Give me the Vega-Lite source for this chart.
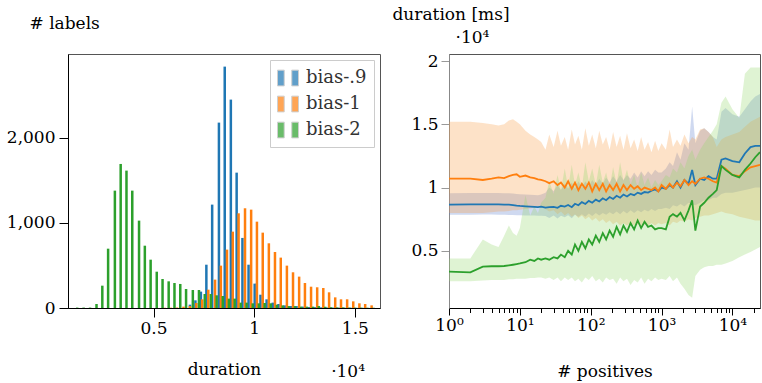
{
  "$schema": "https://vega.github.io/schema/vega-lite/v6.json",
  "padding": {"left": 5, "top": 5, "right": 0, "bottom": 0},
  "background": "white",
  "bounds": "flush",
  "spacing": 69,
  "config": {
    "font": "DejaVu Serif",
    "view": {"stroke": "#555", "strokeWidth": 1},
    "axis": {"labelFont": "DejaVu Serif", "labelFontSize": 17, "titleFont": "DejaVu Serif", "titleFontSize": 17, "titleFontWeight": "normal", "labelColor": "#000", "titleColor": "#000", "grid": false, "domainColor": "#000", "tickColor": "#000", "labelFlush": false},
    "title": {"font": "DejaVu Serif", "fontSize": 17, "fontWeight": "normal", "color": "#000"}
  },
  "resolve": {"scale": {"color": "independent"}, "legend": {"color": "independent"}},
  "datasets": {
    "hist": [
      {"s":"bias-.9","d":0.6808,"n":39},{"s":"bias-.9","d":0.708,"n":90},{"s":"bias-.9","d":0.7352,"n":192},{"s":"bias-.9","d":0.7624,"n":508},{"s":"bias-.9","d":0.7912,"n":1213},{"s":"bias-.9","d":0.8248,"n":2175},{"s":"bias-.9","d":0.8536,"n":2832},{"s":"bias-.9","d":0.884,"n":2445},{"s":"bias-.9","d":0.9128,"n":1588},{"s":"bias-.9","d":0.9416,"n":822},{"s":"bias-.9","d":0.972,"n":508},{"s":"bias-.9","d":1.0024,"n":286},{"s":"bias-.9","d":1.0312,"n":156},{"s":"bias-.9","d":1.0616,"n":102},{"s":"bias-.9","d":1.092,"n":63},{"s":"bias-.9","d":1.1208,"n":47},{"s":"bias-.9","d":1.1512,"n":31},{"s":"bias-.9","d":1.1816,"n":23},{"s":"bias-.9","d":1.2104,"n":23},{"s":"bias-.9","d":1.2408,"n":16},{"s":"bias-.9","d":1.2712,"n":12},{"s":"bias-.9","d":1.3016,"n":10},{"s":"bias-.9","d":1.332,"n":8},{"s":"bias-.9","d":1.3624,"n":6},{"s":"bias-.9","d":1.3928,"n":5},{"s":"bias-.9","d":1.4232,"n":4},{"s":"bias-.9","d":1.4536,"n":3},{"s":"bias-.9","d":1.484,"n":3},{"s":"bias-.9","d":1.5144,"n":2},{"s":"bias-.9","d":1.5448,"n":2},{"s":"bias-.9","d":1.5752,"n":1},
      {"s":"bias-1","d":0.556,"n":3},{"s":"bias-1","d":0.5864,"n":4},{"s":"bias-1","d":0.6168,"n":6},{"s":"bias-1","d":0.6488,"n":16},{"s":"bias-1","d":0.6808,"n":23},{"s":"bias-1","d":0.7128,"n":59},{"s":"bias-1","d":0.7416,"n":102},{"s":"bias-1","d":0.772,"n":215},{"s":"bias-1","d":0.8056,"n":333},{"s":"bias-1","d":0.8344,"n":497},{"s":"bias-1","d":0.8648,"n":685},{"s":"bias-1","d":0.8936,"n":896},{"s":"bias-1","d":0.9224,"n":1111},{"s":"bias-1","d":0.9544,"n":1170},{"s":"bias-1","d":0.9848,"n":1154},{"s":"bias-1","d":1.0136,"n":1013},{"s":"bias-1","d":1.0424,"n":884},{"s":"bias-1","d":1.0728,"n":759},{"s":"bias-1","d":1.1032,"n":657},{"s":"bias-1","d":1.132,"n":591},{"s":"bias-1","d":1.1624,"n":497},{"s":"bias-1","d":1.1928,"n":419},{"s":"bias-1","d":1.2232,"n":368},{"s":"bias-1","d":1.252,"n":293},{"s":"bias-1","d":1.2824,"n":250},{"s":"bias-1","d":1.3128,"n":243},{"s":"bias-1","d":1.3432,"n":235},{"s":"bias-1","d":1.372,"n":184},{"s":"bias-1","d":1.4024,"n":125},{"s":"bias-1","d":1.4312,"n":102},{"s":"bias-1","d":1.4616,"n":102},{"s":"bias-1","d":1.492,"n":78},{"s":"bias-1","d":1.5224,"n":55},{"s":"bias-1","d":1.5512,"n":47},{"s":"bias-1","d":1.5832,"n":31},
      {"s":"bias-2","d":0.1208,"n":5},{"s":"bias-2","d":0.1528,"n":5},{"s":"bias-2","d":0.1848,"n":5},{"s":"bias-2","d":0.2168,"n":47},{"s":"bias-2","d":0.2456,"n":262},{"s":"bias-2","d":0.2744,"n":696},{"s":"bias-2","d":0.308,"n":1377},{"s":"bias-2","d":0.3368,"n":1690},{"s":"bias-2","d":0.3656,"n":1612},{"s":"bias-2","d":0.3944,"n":1377},{"s":"bias-2","d":0.428,"n":1025},{"s":"bias-2","d":0.4568,"n":731},{"s":"bias-2","d":0.4856,"n":567},{"s":"bias-2","d":0.516,"n":426},{"s":"bias-2","d":0.5448,"n":340},{"s":"bias-2","d":0.5752,"n":313},{"s":"bias-2","d":0.604,"n":293},{"s":"bias-2","d":0.6328,"n":282},{"s":"bias-2","d":0.6616,"n":223},{"s":"bias-2","d":0.6952,"n":211},{"s":"bias-2","d":0.7256,"n":211},{"s":"bias-2","d":0.7544,"n":164},{"s":"bias-2","d":0.7848,"n":164},{"s":"bias-2","d":0.8136,"n":149},{"s":"bias-2","d":0.844,"n":141},{"s":"bias-2","d":0.8744,"n":110},{"s":"bias-2","d":0.9032,"n":110},{"s":"bias-2","d":0.9336,"n":63},{"s":"bias-2","d":0.9624,"n":63},{"s":"bias-2","d":0.9928,"n":55},{"s":"bias-2","d":1.0232,"n":55},{"s":"bias-2","d":1.052,"n":59},{"s":"bias-2","d":1.0824,"n":55},{"s":"bias-2","d":1.1128,"n":39},{"s":"bias-2","d":1.1416,"n":31},{"s":"bias-2","d":1.172,"n":23},{"s":"bias-2","d":1.2024,"n":23},{"s":"bias-2","d":1.2328,"n":16},{"s":"bias-2","d":1.2616,"n":16},{"s":"bias-2","d":1.292,"n":16},{"s":"bias-2","d":1.3208,"n":23},{"s":"bias-2","d":1.3528,"n":16},{"s":"bias-2","d":1.3816,"n":10},{"s":"bias-2","d":1.412,"n":8},{"s":"bias-2","d":1.4424,"n":8},{"s":"bias-2","d":1.4728,"n":6},{"s":"bias-2","d":1.5016,"n":5},{"s":"bias-2","d":1.532,"n":5},{"s":"bias-2","d":1.5624,"n":4},{"s":"bias-2","d":1.5928,"n":3}
    ],
    "lines": [
      {"s":"bias-.9","p":1,"m":0.865,"lo":0.785,"hi":0.955},{"s":"bias-.9","p":2,"m":0.867,"lo":0.786,"hi":0.957},{"s":"bias-.9","p":3,"m":0.868,"lo":0.787,"hi":0.958},{"s":"bias-.9","p":4,"m":0.868,"lo":0.787,"hi":0.958},{"s":"bias-.9","p":5,"m":0.867,"lo":0.786,"hi":0.957},{"s":"bias-.9","p":6,"m":0.866,"lo":0.785,"hi":0.956},{"s":"bias-.9","p":7,"m":0.865,"lo":0.784,"hi":0.955},{"s":"bias-.9","p":8,"m":0.862,"lo":0.783,"hi":0.953},{"s":"bias-.9","p":9,"m":0.858,"lo":0.782,"hi":0.95},{"s":"bias-.9","p":10,"m":0.855,"lo":0.781,"hi":0.948},{"s":"bias-.9","p":12,"m":0.852,"lo":0.78,"hi":0.946},{"s":"bias-.9","p":14,"m":0.85,"lo":0.78,"hi":0.944},{"s":"bias-.9","p":16,"m":0.848,"lo":0.779,"hi":0.942},{"s":"bias-.9","p":18,"m":0.846,"lo":0.778,"hi":0.94},{"s":"bias-.9","p":20,"m":0.85,"lo":0.778,"hi":0.945},{"s":"bias-.9","p":23,"m":0.842,"lo":0.775,"hi":0.96},{"s":"bias-.9","p":26,"m":0.845,"lo":0.76,"hi":1.0},{"s":"bias-.9","p":30,"m":0.848,"lo":0.78,"hi":0.97},{"s":"bias-.9","p":34,"m":0.84,"lo":0.755,"hi":1.02},{"s":"bias-.9","p":38,"m":0.856,"lo":0.778,"hi":0.98},{"s":"bias-.9","p":43,"m":0.85,"lo":0.765,"hi":1.03},{"s":"bias-.9","p":48,"m":0.862,"lo":0.782,"hi":0.99},{"s":"bias-.9","p":54,"m":0.845,"lo":0.758,"hi":1.04},{"s":"bias-.9","p":60,"m":0.872,"lo":0.785,"hi":0.99},{"s":"bias-.9","p":67,"m":0.86,"lo":0.77,"hi":1.05},{"s":"bias-.9","p":75,"m":0.885,"lo":0.79,"hi":1.0},{"s":"bias-.9","p":84,"m":0.87,"lo":0.77,"hi":1.05},{"s":"bias-.9","p":94,"m":0.895,"lo":0.795,"hi":1.01},{"s":"bias-.9","p":105,"m":0.88,"lo":0.775,"hi":1.06},{"s":"bias-.9","p":118,"m":0.905,"lo":0.8,"hi":1.02},{"s":"bias-.9","p":132,"m":0.89,"lo":0.78,"hi":1.07},{"s":"bias-.9","p":148,"m":0.915,"lo":0.8,"hi":1.03},{"s":"bias-.9","p":165,"m":0.9,"lo":0.785,"hi":1.08},{"s":"bias-.9","p":185,"m":0.925,"lo":0.805,"hi":1.04},{"s":"bias-.9","p":207,"m":0.91,"lo":0.79,"hi":1.09},{"s":"bias-.9","p":232,"m":0.935,"lo":0.81,"hi":1.05},{"s":"bias-.9","p":260,"m":0.92,"lo":0.79,"hi":1.1},{"s":"bias-.9","p":290,"m":0.945,"lo":0.815,"hi":1.06},{"s":"bias-.9","p":325,"m":0.93,"lo":0.795,"hi":1.1},{"s":"bias-.9","p":365,"m":0.95,"lo":0.82,"hi":1.07},{"s":"bias-.9","p":410,"m":0.94,"lo":0.8,"hi":1.12},{"s":"bias-.9","p":460,"m":0.96,"lo":0.82,"hi":1.08},{"s":"bias-.9","p":515,"m":0.95,"lo":0.805,"hi":1.13},{"s":"bias-.9","p":575,"m":0.965,"lo":0.825,"hi":1.09},{"s":"bias-.9","p":645,"m":0.96,"lo":0.81,"hi":1.13},{"s":"bias-.9","p":720,"m":0.975,"lo":0.83,"hi":1.1},{"s":"bias-.9","p":810,"m":0.985,"lo":0.815,"hi":1.14},{"s":"bias-.9","p":900,"m":0.97,"lo":0.83,"hi":1.12},{"s":"bias-.9","p":1000,"m":1.0,"lo":0.83,"hi":1.12},{"s":"bias-.9","p":1150,"m":0.99,"lo":0.84,"hi":1.15},{"s":"bias-.9","p":1300,"m":1.02,"lo":0.83,"hi":1.2},{"s":"bias-.9","p":1450,"m":1.0,"lo":0.86,"hi":1.17},{"s":"bias-.9","p":1650,"m":1.05,"lo":0.85,"hi":1.28},{"s":"bias-.9","p":1850,"m":1.0,"lo":0.87,"hi":1.22},{"s":"bias-.9","p":2100,"m":1.06,"lo":0.85,"hi":1.35},{"s":"bias-.9","p":2400,"m":1.03,"lo":0.88,"hi":1.3},{"s":"bias-.9","p":2700,"m":1.14,"lo":0.87,"hi":1.64},{"s":"bias-.9","p":3000,"m":1.02,"lo":0.86,"hi":1.35},{"s":"bias-.9","p":3500,"m":1.07,"lo":0.88,"hi":1.45},{"s":"bias-.9","p":4000,"m":1.06,"lo":0.9,"hi":1.47},{"s":"bias-.9","p":4600,"m":1.09,"lo":0.9,"hi":1.44},{"s":"bias-.9","p":5300,"m":1.07,"lo":0.92,"hi":1.4},{"s":"bias-.9","p":6000,"m":1.07,"lo":0.92,"hi":1.38},{"s":"bias-.9","p":7000,"m":1.22,"lo":0.95,"hi":1.6},{"s":"bias-.9","p":8000,"m":1.23,"lo":0.96,"hi":1.63},{"s":"bias-.9","p":10000,"m":1.21,"lo":0.96,"hi":1.58},{"s":"bias-.9","p":12500,"m":1.2,"lo":0.97,"hi":1.56},{"s":"bias-.9","p":15000,"m":1.27,"lo":0.98,"hi":1.62},{"s":"bias-.9","p":18000,"m":1.32,"lo":0.99,"hi":1.68},{"s":"bias-.9","p":21000,"m":1.33,"lo":1.0,"hi":1.72},{"s":"bias-.9","p":24500,"m":1.33,"lo":1.0,"hi":1.74},
      {"s":"bias-1","p":1,"m":1.07,"lo":0.8,"hi":1.52},{"s":"bias-1","p":2,"m":1.07,"lo":0.8,"hi":1.52},{"s":"bias-1","p":3,"m":1.06,"lo":0.8,"hi":1.51},{"s":"bias-1","p":4,"m":1.07,"lo":0.805,"hi":1.5},{"s":"bias-1","p":5,"m":1.08,"lo":0.81,"hi":1.49},{"s":"bias-1","p":6,"m":1.075,"lo":0.81,"hi":1.5},{"s":"bias-1","p":7,"m":1.09,"lo":0.815,"hi":1.53},{"s":"bias-1","p":8,"m":1.1,"lo":0.82,"hi":1.54},{"s":"bias-1","p":9,"m":1.105,"lo":0.82,"hi":1.52},{"s":"bias-1","p":10,"m":1.085,"lo":0.825,"hi":1.5},{"s":"bias-1","p":12,"m":1.095,"lo":0.83,"hi":1.45},{"s":"bias-1","p":14,"m":1.08,"lo":0.835,"hi":1.42},{"s":"bias-1","p":16,"m":1.075,"lo":0.84,"hi":1.4},{"s":"bias-1","p":18,"m":1.065,"lo":0.84,"hi":1.38},{"s":"bias-1","p":20,"m":1.06,"lo":0.845,"hi":1.36},{"s":"bias-1","p":23,"m":1.05,"lo":0.83,"hi":1.3},{"s":"bias-1","p":26,"m":1.035,"lo":0.81,"hi":1.42},{"s":"bias-1","p":30,"m":1.05,"lo":0.82,"hi":1.32},{"s":"bias-1","p":34,"m":1.02,"lo":0.79,"hi":1.45},{"s":"bias-1","p":38,"m":1.04,"lo":0.81,"hi":1.33},{"s":"bias-1","p":43,"m":1.0,"lo":0.78,"hi":1.4},{"s":"bias-1","p":48,"m":1.05,"lo":0.8,"hi":1.3},{"s":"bias-1","p":54,"m":0.99,"lo":0.77,"hi":1.46},{"s":"bias-1","p":60,"m":1.04,"lo":0.79,"hi":1.34},{"s":"bias-1","p":67,"m":0.98,"lo":0.76,"hi":1.41},{"s":"bias-1","p":75,"m":1.03,"lo":0.78,"hi":1.3},{"s":"bias-1","p":84,"m":0.99,"lo":0.75,"hi":1.47},{"s":"bias-1","p":94,"m":1.04,"lo":0.77,"hi":1.33},{"s":"bias-1","p":105,"m":0.97,"lo":0.74,"hi":1.42},{"s":"bias-1","p":118,"m":1.03,"lo":0.76,"hi":1.31},{"s":"bias-1","p":132,"m":0.98,"lo":0.73,"hi":1.45},{"s":"bias-1","p":148,"m":1.03,"lo":0.75,"hi":1.34},{"s":"bias-1","p":165,"m":0.97,"lo":0.72,"hi":1.4},{"s":"bias-1","p":185,"m":1.02,"lo":0.74,"hi":1.3},{"s":"bias-1","p":207,"m":0.98,"lo":0.71,"hi":1.44},{"s":"bias-1","p":232,"m":1.03,"lo":0.73,"hi":1.32},{"s":"bias-1","p":260,"m":0.97,"lo":0.7,"hi":1.41},{"s":"bias-1","p":290,"m":1.02,"lo":0.72,"hi":1.3},{"s":"bias-1","p":325,"m":0.98,"lo":0.7,"hi":1.43},{"s":"bias-1","p":365,"m":1.02,"lo":0.72,"hi":1.31},{"s":"bias-1","p":410,"m":0.99,"lo":0.7,"hi":1.38},{"s":"bias-1","p":460,"m":1.01,"lo":0.71,"hi":1.29},{"s":"bias-1","p":515,"m":0.98,"lo":0.69,"hi":1.4},{"s":"bias-1","p":575,"m":1.0,"lo":0.71,"hi":1.3},{"s":"bias-1","p":645,"m":0.99,"lo":0.7,"hi":1.36},{"s":"bias-1","p":720,"m":0.98,"lo":0.72,"hi":1.28},{"s":"bias-1","p":810,"m":1.0,"lo":0.7,"hi":1.37},{"s":"bias-1","p":900,"m":0.97,"lo":0.72,"hi":1.29},{"s":"bias-1","p":1000,"m":1.02,"lo":0.71,"hi":1.35},{"s":"bias-1","p":1150,"m":0.99,"lo":0.72,"hi":1.3},{"s":"bias-1","p":1300,"m":1.03,"lo":0.7,"hi":1.46},{"s":"bias-1","p":1450,"m":1.0,"lo":0.73,"hi":1.32},{"s":"bias-1","p":1650,"m":1.04,"lo":0.72,"hi":1.38},{"s":"bias-1","p":1850,"m":1.01,"lo":0.74,"hi":1.33},{"s":"bias-1","p":2100,"m":1.06,"lo":0.73,"hi":1.42},{"s":"bias-1","p":2400,"m":1.02,"lo":0.75,"hi":1.35},{"s":"bias-1","p":2700,"m":1.05,"lo":0.74,"hi":1.4},{"s":"bias-1","p":3000,"m":1.03,"lo":0.76,"hi":1.38},{"s":"bias-1","p":3500,"m":1.07,"lo":0.77,"hi":1.46},{"s":"bias-1","p":4000,"m":1.08,"lo":0.78,"hi":1.47},{"s":"bias-1","p":4600,"m":1.07,"lo":0.78,"hi":1.44},{"s":"bias-1","p":5300,"m":1.05,"lo":0.79,"hi":1.4},{"s":"bias-1","p":6000,"m":1.04,"lo":0.8,"hi":1.32},{"s":"bias-1","p":7000,"m":1.17,"lo":0.81,"hi":1.38},{"s":"bias-1","p":8000,"m":1.15,"lo":0.8,"hi":1.4},{"s":"bias-1","p":10000,"m":1.1,"lo":0.79,"hi":1.42},{"s":"bias-1","p":12500,"m":1.09,"lo":0.77,"hi":1.44},{"s":"bias-1","p":15000,"m":1.13,"lo":0.76,"hi":1.48},{"s":"bias-1","p":18000,"m":1.16,"lo":0.75,"hi":1.52},{"s":"bias-1","p":21000,"m":1.17,"lo":0.74,"hi":1.54},{"s":"bias-1","p":24500,"m":1.18,"lo":0.74,"hi":1.56},
      {"s":"bias-2","p":1,"m":0.336,"lo":0.26,"hi":0.44},{"s":"bias-2","p":2,"m":0.33,"lo":0.26,"hi":0.44},{"s":"bias-2","p":3,"m":0.375,"lo":0.265,"hi":0.59},{"s":"bias-2","p":4,"m":0.378,"lo":0.27,"hi":0.55},{"s":"bias-2","p":5,"m":0.378,"lo":0.27,"hi":0.53},{"s":"bias-2","p":6,"m":0.38,"lo":0.27,"hi":0.62},{"s":"bias-2","p":7,"m":0.385,"lo":0.275,"hi":0.7},{"s":"bias-2","p":8,"m":0.39,"lo":0.275,"hi":0.64},{"s":"bias-2","p":9,"m":0.395,"lo":0.28,"hi":0.62},{"s":"bias-2","p":10,"m":0.4,"lo":0.28,"hi":0.68},{"s":"bias-2","p":12,"m":0.41,"lo":0.28,"hi":0.94},{"s":"bias-2","p":14,"m":0.43,"lo":0.285,"hi":0.78},{"s":"bias-2","p":16,"m":0.42,"lo":0.285,"hi":0.85},{"s":"bias-2","p":18,"m":0.44,"lo":0.29,"hi":0.8},{"s":"bias-2","p":20,"m":0.43,"lo":0.29,"hi":0.88},{"s":"bias-2","p":23,"m":0.44,"lo":0.28,"hi":0.92},{"s":"bias-2","p":26,"m":0.43,"lo":0.29,"hi":1.05},{"s":"bias-2","p":30,"m":0.45,"lo":0.27,"hi":0.95},{"s":"bias-2","p":34,"m":0.44,"lo":0.29,"hi":1.1},{"s":"bias-2","p":38,"m":0.47,"lo":0.26,"hi":0.98},{"s":"bias-2","p":43,"m":0.45,"lo":0.29,"hi":1.15},{"s":"bias-2","p":48,"m":0.5,"lo":0.27,"hi":1.0},{"s":"bias-2","p":54,"m":0.47,"lo":0.29,"hi":1.18},{"s":"bias-2","p":60,"m":0.55,"lo":0.26,"hi":1.02},{"s":"bias-2","p":67,"m":0.5,"lo":0.28,"hi":1.12},{"s":"bias-2","p":75,"m":0.57,"lo":0.25,"hi":1.0},{"s":"bias-2","p":84,"m":0.52,"lo":0.29,"hi":1.2},{"s":"bias-2","p":94,"m":0.59,"lo":0.27,"hi":1.05},{"s":"bias-2","p":105,"m":0.55,"lo":0.3,"hi":1.15},{"s":"bias-2","p":118,"m":0.62,"lo":0.26,"hi":1.02},{"s":"bias-2","p":132,"m":0.57,"lo":0.28,"hi":1.18},{"s":"bias-2","p":148,"m":0.64,"lo":0.25,"hi":1.04},{"s":"bias-2","p":165,"m":0.59,"lo":0.29,"hi":1.12},{"s":"bias-2","p":185,"m":0.66,"lo":0.27,"hi":1.0},{"s":"bias-2","p":207,"m":0.61,"lo":0.28,"hi":1.16},{"s":"bias-2","p":232,"m":0.69,"lo":0.24,"hi":1.03},{"s":"bias-2","p":260,"m":0.63,"lo":0.29,"hi":1.2},{"s":"bias-2","p":290,"m":0.7,"lo":0.26,"hi":1.05},{"s":"bias-2","p":325,"m":0.65,"lo":0.28,"hi":1.14},{"s":"bias-2","p":365,"m":0.72,"lo":0.23,"hi":1.02},{"s":"bias-2","p":410,"m":0.67,"lo":0.27,"hi":1.1},{"s":"bias-2","p":460,"m":0.74,"lo":0.25,"hi":1.0},{"s":"bias-2","p":515,"m":0.68,"lo":0.29,"hi":1.12},{"s":"bias-2","p":575,"m":0.73,"lo":0.24,"hi":1.02},{"s":"bias-2","p":645,"m":0.69,"lo":0.28,"hi":1.08},{"s":"bias-2","p":720,"m":0.7,"lo":0.26,"hi":1.0},{"s":"bias-2","p":810,"m":0.67,"lo":0.29,"hi":1.06},{"s":"bias-2","p":900,"m":0.68,"lo":0.27,"hi":1.02},{"s":"bias-2","p":1000,"m":0.68,"lo":0.28,"hi":1.05},{"s":"bias-2","p":1150,"m":0.67,"lo":0.27,"hi":1.1},{"s":"bias-2","p":1300,"m":0.77,"lo":0.3,"hi":1.08},{"s":"bias-2","p":1450,"m":0.79,"lo":0.26,"hi":1.15},{"s":"bias-2","p":1650,"m":0.77,"lo":0.29,"hi":1.12},{"s":"bias-2","p":1850,"m":0.8,"lo":0.24,"hi":1.2},{"s":"bias-2","p":2100,"m":0.74,"lo":0.2,"hi":1.15},{"s":"bias-2","p":2400,"m":0.82,"lo":0.15,"hi":1.25},{"s":"bias-2","p":2700,"m":0.9,"lo":0.13,"hi":1.3},{"s":"bias-2","p":3000,"m":0.66,"lo":0.3,"hi":1.22},{"s":"bias-2","p":3500,"m":0.85,"lo":0.35,"hi":1.3},{"s":"bias-2","p":4000,"m":0.88,"lo":0.37,"hi":1.35},{"s":"bias-2","p":4600,"m":0.92,"lo":0.38,"hi":1.4},{"s":"bias-2","p":5300,"m":0.95,"lo":0.38,"hi":1.45},{"s":"bias-2","p":6000,"m":0.98,"lo":0.39,"hi":1.5},{"s":"bias-2","p":7000,"m":1.17,"lo":0.39,"hi":1.67},{"s":"bias-2","p":8000,"m":1.14,"lo":0.4,"hi":1.72},{"s":"bias-2","p":10000,"m":1.1,"lo":0.42,"hi":1.62},{"s":"bias-2","p":12500,"m":1.08,"lo":0.45,"hi":1.55},{"s":"bias-2","p":15000,"m":1.14,"lo":0.47,"hi":1.9},{"s":"bias-2","p":18000,"m":1.19,"lo":0.49,"hi":1.95},{"s":"bias-2","p":21000,"m":1.24,"lo":0.51,"hi":1.95},{"s":"bias-2","p":24500,"m":1.28,"lo":0.53,"hi":1.95}
    ]
  },
  "hconcat": [
    {
      "width": 312,
      "height": 254,
      "title": {"text": "·10⁴", "orient": "bottom", "anchor": "end", "frame": "group", "dx": -15, "dy": -13, "offset": 0},
      "data": {"name": "hist"},
      "mark": {"type": "bar", "width": 2.5, "clip": true},
      "encoding": {
        "x": {"field": "d", "type": "quantitative", "scale": {"domain": [0.1, 1.6], "nice": false, "zero": false},
          "axis": {"values": [0.5, 1, 1.5], "format": "~g", "tickSize": 9, "labelPadding": 3, "title": "duration", "titleY": 61, "titleBaseline": "middle"}},
        "y": {"field": "n", "type": "quantitative", "stack": null, "scale": {"domain": [0, 2980], "nice": false},
          "axis": {"values": [0, 1000, 2000], "format": ",d", "tickSize": 9, "labelPadding": 4, "title": "# labels", "titleAngle": 0, "titleAlign": "left", "titleX": -39, "titleY": -31, "titleBaseline": "middle"}},
        "color": {"field": "s", "type": "nominal", "scale": {"domain": ["bias-.9", "bias-1", "bias-2"], "range": ["#1f77b4", "#ff7f0e", "#2ca02c"]},
          "legend": {"title": null, "orient": "top-right", "offset": 6, "padding": 7, "fillColor": "white", "strokeColor": "#ccc", "symbolType": "M-1,-0.75H-0.36V0.75H-1Z M0.36,-0.75H1V0.75H0.36Z", "symbolSize": 441, "symbolOpacity": 0.7, "symbolStrokeColor": "#bbb", "symbolStrokeWidth": 1, "labelFontSize": 18, "labelFont": "DejaVu Serif", "labelColor": "#333", "rowPadding": 5, "labelOffset": 7}}
      }
    },
    {
      "width": 311,
      "height": 254,
      "title": {"text": "duration [ms]", "anchor": "start", "align": "center", "dx": 2, "frame": "group", "offset": 4},
      "data": {"name": "lines"},
      "layer": [
        {
          "mark": {"type": "area", "fillOpacity": 0.3, "clip": true},
          "encoding": {
            "x": {"field": "p", "type": "quantitative", "scale": {"type": "log", "domain": [1, 24500], "nice": false},
              "axis": {"values": [1,2,3,4,5,6,7,8,9,10,20,30,40,50,60,70,80,90,100,200,300,400,500,600,700,800,900,1000,2000,3000,4000,5000,6000,7000,8000,9000,10000,20000],
                "labelExpr": "abs(log(datum.value)/LN10 - round(log(datum.value)/LN10)) < 0.000001 ? '10' + ['⁰','¹','²','³','⁴'][round(log(datum.value)/LN10)] : ''",
                "labelOverlap": false, "labelPadding": 2,
                "tickSize": {"condition": {"test": "abs(log(datum.value)/LN10 - round(log(datum.value)/LN10)) < 0.000001", "value": 7}, "value": 4.5},
                "title": "# positives", "titleY": 63, "titleBaseline": "middle"}},
            "y": {"field": "lo", "type": "quantitative", "stack": null, "scale": {"domain": [0.048, 2.056], "nice": false, "zero": false},
              "axis": {"values": [0.5, 1, 1.5, 2], "format": "~g", "tickSize": 8, "labelPadding": 3, "domainColor": "#888", "tickColor": "#999", "title": "·10⁴", "titleAngle": 0, "titleAlign": "left", "titleX": 6, "titleY": -17, "titleBaseline": "middle"}},
            "y2": {"field": "hi"},
            "fill": {"field": "s", "type": "nominal", "scale": {"domain": ["bias-.9", "bias-1", "bias-2"], "range": ["#5f80cd", "#f89e48", "#94d76c"]}, "legend": null}
          }
        },
        {
          "mark": {"type": "line", "strokeWidth": 1.8, "clip": true},
          "encoding": {
            "x": {"field": "p", "type": "quantitative", "scale": {"type": "log", "domain": [1, 24500], "nice": false},
              "axis": {"values": [1,2,3,4,5,6,7,8,9,10,20,30,40,50,60,70,80,90,100,200,300,400,500,600,700,800,900,1000,2000,3000,4000,5000,6000,7000,8000,9000,10000,20000],
                "labelExpr": "abs(log(datum.value)/LN10 - round(log(datum.value)/LN10)) < 0.000001 ? '10' + ['⁰','¹','²','³','⁴'][round(log(datum.value)/LN10)] : ''",
                "labelOverlap": false, "labelPadding": 2,
                "tickSize": {"condition": {"test": "abs(log(datum.value)/LN10 - round(log(datum.value)/LN10)) < 0.000001", "value": 7}, "value": 4.5},
                "title": "# positives", "titleY": 63, "titleBaseline": "middle"}},
            "y": {"field": "m", "type": "quantitative", "scale": {"domain": [0.048, 2.056], "nice": false, "zero": false},
              "axis": {"values": [0.5, 1, 1.5, 2], "format": "~g", "tickSize": 8, "labelPadding": 3, "domainColor": "#888", "tickColor": "#999", "title": "·10⁴", "titleAngle": 0, "titleAlign": "left", "titleX": 6, "titleY": -17, "titleBaseline": "middle"}},
            "stroke": {"field": "s", "type": "nominal", "scale": {"domain": ["bias-.9", "bias-1", "bias-2"], "range": ["#1f77b4", "#ff7f0e", "#2ca02c"]}, "legend": null}
          }
        }
      ]
    }
  ]
}
